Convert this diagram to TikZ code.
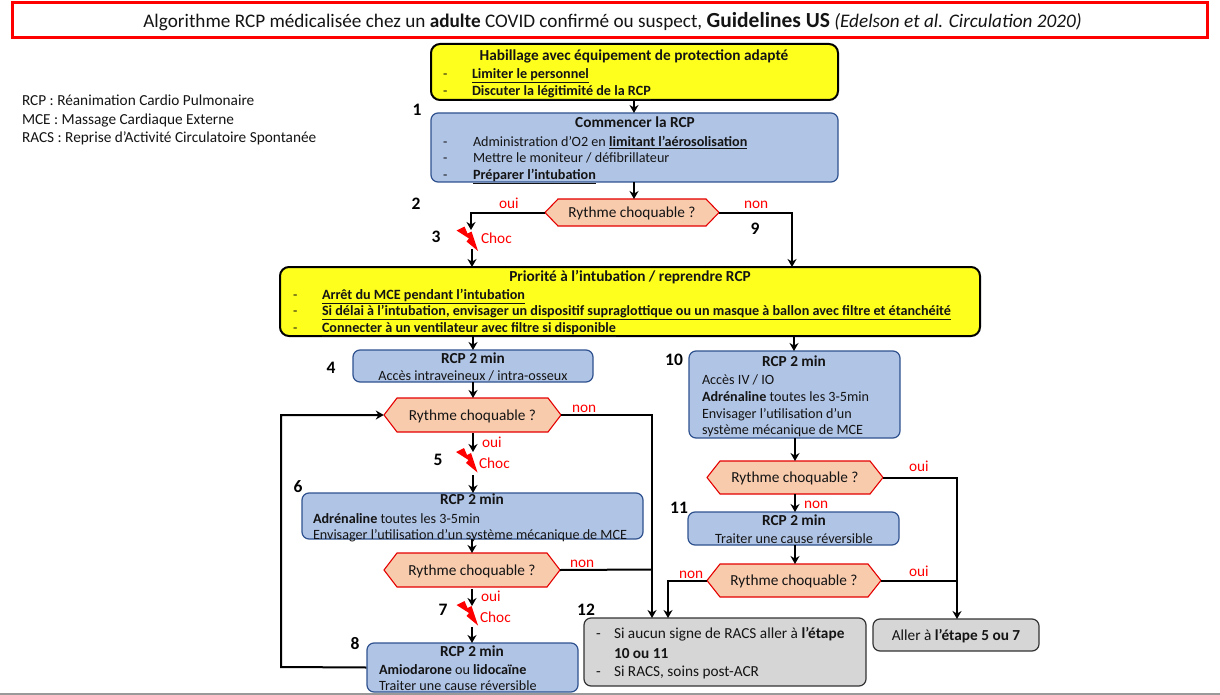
\documentclass[tikz,border=0pt]{standalone}
\usepackage{fontspec}
\setmainfont{Carlito}
\usetikzlibrary{arrows.meta}
\definecolor{ybox}{HTML}{FFFF1E}
\definecolor{bbox}{HTML}{B0C4E6}
\definecolor{bline}{HTML}{2F528F}
\definecolor{hfill}{HTML}{F8CBAD}
\definecolor{gbox}{HTML}{D6D6D6}
\definecolor{gline}{HTML}{333333}
\definecolor{ink}{HTML}{141414}
\newcommand{\bodyf}{\fontsize{14.15}{16}\selectfont}
\newcommand{\bigf}{\fontsize{15.3}{17}\selectfont}
\tikzset{
  txt/.style={anchor=base west,inner sep=0,outer sep=0,text=ink,font=\bodyf,yshift=-0.8pt},
  ctr/.style={txt,anchor=base},
  bigt/.style={anchor=base west,inner sep=0,outer sep=0,text=ink,font=\bigf,yshift=-0.8pt},
  bigc/.style={bigt,anchor=base},
  lbl/.style={anchor=base west,inner sep=0,outer sep=0,text=red,font=\bigf},
  num/.style={anchor=base,inner sep=0,outer sep=0,text=black,font=\fontsize{17.5}{19}\selectfont\bfseries},
  yellowbox/.style={draw=black,line width=2pt,fill=ybox,rounded corners=9pt},
  bluebox/.style={draw=bline,line width=1.2pt,fill=bbox,rounded corners=7pt},
  greybox/.style={draw=gline,line width=1.2pt,fill=gbox,rounded corners=7pt},
  redbox/.style={draw=red,line width=3pt,fill=white},
  hexa/.style={draw=red!90!black,line width=1.1pt,fill=hfill},
  link/.style={draw=black,line width=2pt},
  arr/.style={link,-{Stealth[length=8pt,width=9pt]}},
  bolt/.style={fill=red,draw=none}
}
\newcommand{\bx}[6]{\node[#1,inner sep=0,minimum width={(#5-#3)*1pt},minimum height={(#6-#4)*1pt}] (#2) at ({(#3+#5)/2},{(#4+#6)/2}) {};}
\newcommand{\hx}[6]{\path[hexa] (#3,{(#4+#6)/2}) -- (#3+13,#4) -- (#5-13,#4) -- (#5,{(#4+#6)/2}) -- (#5-13,#6) -- (#3+13,#6) -- cycle;
  \node[inner sep=0,minimum width={(#5-#3)*1pt},minimum height={(#6-#4)*1pt}] (#2) at ({(#3+#5)/2},{(#4+#6)/2}) {};
  \node[bigc] (#2t) at ({(#3+#5)/2},{(#4+#6)/2+4.6}) {Rythme choquable ?};}
\newcommand{\zap}[3]{\path[bolt,shift={(#2,#3)}] (0,5) -- (8,1) -- (11,8) -- (15,6) -- (21.5,25.5) -- (10,16) -- (12.5,13) -- cycle;
  \coordinate (#1top) at (#2+15,#3+5); \coordinate (#1bot) at (#2+15,#3+25);}
\begin{document}
\begin{tikzpicture}[x=1pt,y=-1pt]
\useasboundingbox (0,0) rectangle (1220,695);
\fill[white] (0,0) rectangle (1220,695);
\fill[gray!80] (0,692.5) rectangle (1220,695);
% title
\bx{redbox}{title}{12}{3}{1207}{38}
\node[inner sep=0,text=ink,font=\fontsize{19.2}{21}\selectfont] (titlet) at (612.5,22) {Algorithme RCP médicalisée chez un \textbf{adulte} COVID confirmé ou suspect, {\fontsize{21.5}{22}\selectfont\textbf{Guidelines US}} \textit{(Edelson et al. Circulation 2020)}};
% legend
\node[bigt] (l1) at (22,105) {RCP : Réanimation Cardio Pulmonaire};
\node[bigt] (l2) at (22,124) {MCE : Massage Cardiaque Externe};
\node[bigt] (l3) at (22,142) {RACS : Reprise d’Activité Circulatoire Spontanée};
% boxes
\bx{yellowbox}{a}{431}{44}{838}{100}
\bx{bluebox}{b}{431}{113}{838}{182}
\hx{}{h1}{545}{199}{719}{226}
\bx{yellowbox}{p}{280}{267}{980}{336}
\bx{bluebox}{r4}{353}{350}{593}{382}
\hx{}{h2}{384}{398}{561}{432}
\bx{bluebox}{r6}{302}{493}{643}{539}
\hx{}{h3}{384}{553}{560}{587}
\bx{bluebox}{r8}{367}{643}{578}{692}
\bx{bluebox}{r10}{689}{351}{900}{438}
\hx{}{h4}{707}{461}{883}{494}
\bx{bluebox}{r11}{688}{512}{899}{545}
\hx{}{h5}{707}{564}{881}{597}
\bx{greybox}{e12}{584}{618}{866}{686}
\bx{greybox}{ea}{873}{619}{1039}{651}
% bolts
\zap{z1}{456.5}{225.5}
\zap{z2}{456}{447}
\zap{z3}{456.5}{600}
% box text
\node[bigc] (at0) at (634,60) {\textbf{Habillage avec équipement de protection adapté}};
\node[txt] (ad1) at (443,78) {-};
\node[txt] (at1) at (472,78) {\underline{\textbf{Limiter le personnel}}};
\node[txt] (ad2) at (443,95) {-};
\node[txt] (at2) at (472,95) {\underline{\textbf{Discuter la légitimité de la RCP}}};
\node[bigc] (bt0) at (635,126.5) {\textbf{Commencer la RCP}};
\node[txt] (bd1) at (443,146) {-};
\node[txt] (bt1) at (473,146) {Administration d’O2 en \underline{\textbf{limitant l’aérosolisation}}};
\node[txt] (bd2) at (443,162) {-};
\node[txt] (bt2) at (473,162) {Mettre le moniteur / défibrillateur};
\node[txt] (bd3) at (443,179) {-};
\node[txt] (bt3) at (473,179) {\underline{\textbf{Préparer l’intubation}}};
\node[bigc] (pt0) at (630,281) {\textbf{Priorité à l’intubation / reprendre RCP}};
\node[txt] (pd1) at (293,299) {-};
\node[txt] (pt1) at (322,299) {\underline{\textbf{Arrêt du MCE pendant l’intubation}}};
\node[txt] (pd2) at (293,315) {-};
\node[txt] (pt2) at (322,315) {\underline{\textbf{Si délai à l’intubation, envisager un dispositif supraglottique ou un masque à ballon avec filtre et étanchéité}}};
\node[txt] (pd3) at (293,332) {-};
\node[txt] (pt3) at (322,332) {\underline{\textbf{Connecter à un ventilateur avec filtre si disponible}}};
\node[bigc] (r4a) at (473,363) {\textbf{RCP 2 min}};
\node[ctr] (r4b) at (473,380) {Accès intraveineux / intra-osseux};
\node[bigc] (r6a) at (472,504) {\textbf{RCP 2 min}};
\node[txt] (r6b) at (313,523) {\textbf{Adrénaline} toutes les 3-5min};
\node[txt] (r6c) at (313,539) {Envisager l’utilisation d’un système mécanique de MCE};
\node[bigc] (r8a) at (472,656) {\textbf{RCP 2 min}};
\node[txt] (r8b) at (379,674) {\textbf{Amiodarone} ou \textbf{lidocaïne}};
\node[txt] (r8c) at (379,690) {Traiter une cause réversible};
\node[bigc] (r10a) at (794,366) {\textbf{RCP 2 min}};
\node[txt] (r10b) at (702,384) {Accès IV / IO};
\node[txt] (r10c) at (702,401) {\textbf{Adrénaline} toutes les 3-5min};
\node[txt] (r10d) at (702,418) {Envisager l’utilisation d’un};
\node[txt] (r10e) at (702,434) {système mécanique de MCE};
\node[bigc] (r11a) at (794,525) {\textbf{RCP 2 min}};
\node[ctr] (r11b) at (794,543) {Traiter une cause réversible};
\node[bigt] (ed1) at (596,638) {-};
\node[bigt] (et1) at (614,638) {Si aucun signe de RACS aller à \textbf{l’étape}};
\node[bigt] (et2) at (614,658) {\textbf{10 ou 11}};
\node[bigt] (ed2) at (596,676) {-};
\node[bigt] (et3) at (614,676) {Si RACS, soins post-ACR};
\node[bigc] (eat) at (956,640) {Aller à \textbf{l’étape 5 ou 7}};
% numbers
\node[num] (n1) at (417,116) {1};
\node[num] (n2) at (416,210) {2};
\node[num] (n3) at (436,242) {3};
\node[num] (n4) at (331,373) {4};
\node[num] (n5) at (438,465) {5};
\node[num] (n6) at (298,492) {6};
\node[num] (n7) at (443,615) {7};
\node[num] (n8) at (355,649) {8};
\node[num] (n9) at (755,234) {9};
\node[num] (n10) at (674,365) {10};
\node[num] (n11) at (679,513) {11};
\node[num] (n12) at (586,615) {12};
% labels
\node[lbl] (o1) at (499,208) {oui};
\node[lbl] (c1) at (481,243) {Choc};
\node[lbl] (no1) at (744,208) {non};
\node[lbl] (no2) at (572,412) {non};
\node[lbl] (o2) at (482,447) {oui};
\node[lbl] (c2) at (479,468) {Choc};
\node[lbl] (no3) at (570,567) {non};
\node[lbl] (o3) at (481,601) {oui};
\node[lbl] (c3) at (480,622) {Choc};
\node[lbl] (o4) at (909,471) {oui};
\node[lbl] (no4) at (804,508) {non};
\node[lbl] (no5) at (679,578) {non};
\node[lbl] (o5) at (909,576) {oui};
% connectors
\coordinate (c12) at (652,618);
\coordinate (c12b) at (668,618);
\coordinate (cea) at (957,619);
\coordinate (z1in) at (471,230);
\draw[arr] (634,100) -- (634,113);
\draw[arr] (634,182) -- (634,199);
\draw[arr] (h1.west) -| (z1in);
\draw[arr] (472,249) -- (472,267);
\draw[arr] (h1.east) -| (792,267);
\draw[arr] (473,336) -- (473,350);
\draw[arr] (794,336) -- (794,351);
\draw[arr] (473,382) -- (473,398);
\draw[arr] (473,433) -- (473,452);
\draw[arr] (473,475) -- (473,493);
\draw[arr] (472,539) -- (472,553);
\draw[arr] (472,589) -- (472,606);
\draw[arr] (472,627) -- (472,643);
\draw[arr] (r8.west) -- (281,667) |- (h2.west);
\draw[arr] (h2.east) -| (c12);
\draw[link] (h3.east) -- (652,569.5);
\draw[arr] (h5.west) -| (c12b);
\draw[arr] (h4.east) -| (cea);
\draw[link] (h5.east) -- (957,580.5);
\draw[arr] (795,438) -- (795,461);
\draw[arr] (795,494) -- (795,512);
\draw[arr] (795,545) -- (795,564);
\end{tikzpicture}
\end{document}
